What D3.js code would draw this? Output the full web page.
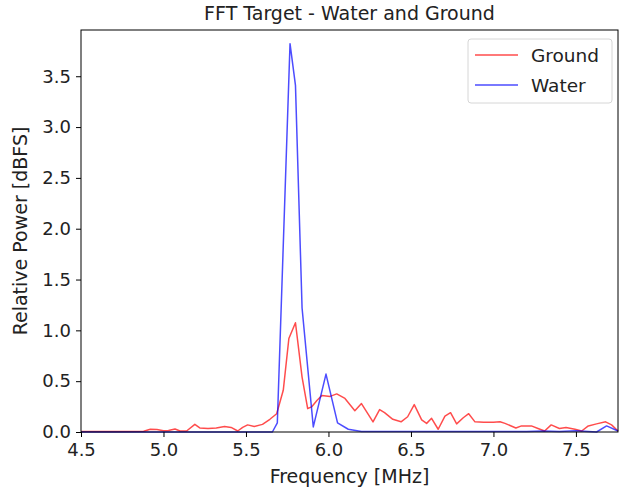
<!DOCTYPE html>
<html>
<head>
<meta charset="utf-8">
<script src="https://cdn.jsdelivr.net/npm/d3@7"></script>
<style>
  body { margin: 0; background: #fff; }
  text { font-family: "DejaVu Sans", sans-serif; fill: #222; }
</style>
</head>
<body>
<svg id="chart"></svg>
<script>
// ground return
var groundFreq = [4.50, 4.70, 4.88, 4.92, 4.96, 5.00, 5.03, 5.07, 5.10, 5.14, 5.19, 5.22, 5.27, 5.32, 5.37, 5.41, 5.45, 5.48, 5.51, 5.55, 5.60, 5.645, 5.686, 5.726, 5.76, 5.80, 5.84, 5.874, 5.90, 5.93, 5.96, 6.01, 6.05, 6.10, 6.16, 6.20, 6.27, 6.31, 6.34, 6.39, 6.44, 6.48, 6.52, 6.565, 6.595, 6.625, 6.665, 6.706, 6.74, 6.777, 6.817, 6.85, 6.888, 6.94, 7.00, 7.04, 7.07, 7.136, 7.17, 7.23, 7.27, 7.31, 7.35, 7.40, 7.44, 7.494, 7.535, 7.575, 7.625, 7.68, 7.716, 7.755]
var groundPow = [0.005, 0.005, 0.008, 0.027, 0.025, 0.012, 0.015, 0.03, 0.01, 0.01, 0.075, 0.04, 0.035, 0.04, 0.055, 0.045, 0.01, 0.045, 0.07, 0.055, 0.075, 0.125, 0.18, 0.41, 0.92, 1.075, 0.54, 0.23, 0.25, 0.31, 0.36, 0.35, 0.375, 0.33, 0.21, 0.28, 0.10, 0.22, 0.19, 0.125, 0.10, 0.15, 0.27, 0.12, 0.085, 0.135, 0.027, 0.157, 0.19, 0.08, 0.14, 0.18, 0.10, 0.095, 0.095, 0.10, 0.085, 0.04, 0.06, 0.06, 0.035, 0.01, 0.07, 0.035, 0.045, 0.027, 0.01, 0.06, 0.08, 0.10, 0.07, 0.01]

// water return
var waterFreq = [4.50, 5.66, 5.69, 5.767, 5.80, 5.84, 5.908, 5.985, 6.055, 6.12, 6.20, 7.20, 7.30, 7.40, 7.50, 7.625, 7.686, 7.755]
var waterPow = [0.0, 0.0, 0.09, 3.82, 3.41, 1.22, 0.05, 0.57, 0.09, 0.027, 0.005, 0.005, 0.01, 0.005, 0.012, 0.0, 0.06, 0.01]

var xTicks = [4.5, 5.0, 5.5, 6.0, 6.5, 7.0, 7.5]
var yTicks = [0.0, 0.5, 1.0, 1.5, 2.0, 2.5, 3.0, 3.5]

var width = 621, height = 490
var margin = {top: 30, right: 3, bottom: 58, left: 81}

var svg = d3.select("#chart")
  .attr("width", width)
  .attr("height", height)

var x = d3.scaleLinear()
  .domain([4.5, 7.755])
  .range([margin.left, width - margin.right])

var y = d3.scaleLinear()
  .domain([0, 3.955])
  .range([height - margin.bottom, margin.top])

var line = d3.line()
  .x(function(d){ return x(d[0]) })
  .y(function(d){ return y(d[1]) })

var series = [
  {name: "Ground", color: "red", data: d3.zip(groundFreq, groundPow)},
  {name: "Water", color: "blue", data: d3.zip(waterFreq, waterPow)}
]

var plot = svg.append("g")
series.forEach(function(s){
  plot.append("path")
    .datum(s.data)
    .attr("d", line)
    .attr("fill", "none")
    .attr("stroke", s.color)
    .attr("stroke-opacity", 0.7)
    .attr("stroke-width", 1.5)
    .attr("stroke-linejoin", "round")
})

// frame
svg.append("rect")
  .attr("x", margin.left)
  .attr("y", margin.top)
  .attr("width", width - margin.right - margin.left)
  .attr("height", height - margin.bottom - margin.top)
  .attr("fill", "none")
  .attr("stroke", "#000")
  .attr("stroke-width", 1)

var xAxis = svg.append("g")
  .attr("transform", "translate(0," + (height - margin.bottom) + ")")
  .call(d3.axisBottom(x).tickValues(xTicks).tickFormat(d3.format(".1f")).tickSize(5).tickPadding(6))
var yAxis = svg.append("g")
  .attr("transform", "translate(" + margin.left + ",0)")
  .call(d3.axisLeft(y).tickValues(yTicks).tickFormat(d3.format(".1f")).tickSize(5).tickPadding(5))

;[xAxis, yAxis].forEach(function(a){
  a.select(".domain").remove()
  a.selectAll("text").style("font-size", "18px").attr("fill", "#222")
  a.selectAll("line").attr("stroke", "#000")
})

svg.append("text")
  .attr("x", (margin.left + width - margin.right) / 2)
  .attr("y", 20)
  .attr("text-anchor", "middle")
  .style("font-size", "19px")
  .text("FFT Target - Water and Ground")

svg.append("text")
  .attr("x", (margin.left + width - margin.right) / 2)
  .attr("y", 483)
  .attr("text-anchor", "middle")
  .style("font-size", "19px")
  .text("Frequency [MHz]")

svg.append("text")
  .attr("transform", "translate(27," + ((margin.top + height - margin.bottom) / 2) + ") rotate(-90)")
  .attr("text-anchor", "middle")
  .style("font-size", "19px")
  .text("Relative Power [dBFS]")

// legend
var legend = svg.append("g").attr("transform", "translate(468,39)")
legend.append("rect")
  .attr("width", 144)
  .attr("height", 64)
  .attr("rx", 3)
  .attr("fill", "#fff")
  .attr("fill-opacity", 0.8)
  .attr("stroke", "#d6d6d6")
series.forEach(function(s, i){
  var g = legend.append("g").attr("transform", "translate(0," + (16 + i * 30) + ")")
  g.append("line")
    .attr("x1", 7).attr("x2", 50)
    .attr("stroke", s.color)
    .attr("stroke-opacity", 0.7)
    .attr("stroke-width", 1.5)
  g.append("text")
    .attr("x", 63)
    .attr("y", 6.5)
    .style("font-size", "18.5px")
    .text(s.name)
})
</script>
</body>
</html>
